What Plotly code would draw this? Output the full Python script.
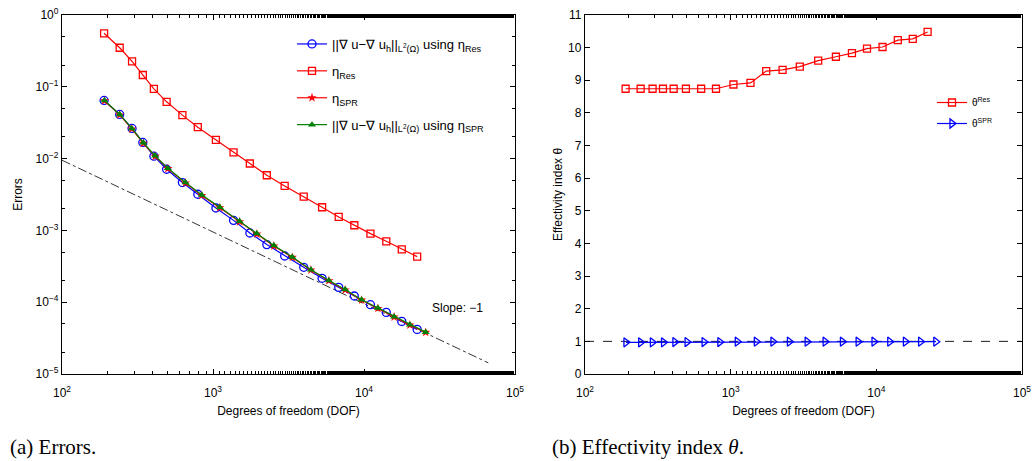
import plotly.graph_objects as go

# ---------------- data ----------------
dof_res = [190, 241, 291, 343, 406, 493, 627, 793, 1045, 1368, 1754, 2272, 2983,
           3989, 5278, 6800, 8628, 11030, 14045, 17785, 22490]
err_res = [0.0646, 0.0412, 0.0263, 0.0168, 0.0108, 0.00711, 0.00464, 0.00319,
           0.00205, 0.00138, 0.000920, 0.000634, 0.000440, 0.000306, 0.000215,
           0.000161, 0.000122, 0.0000923, 0.0000721, 0.0000540, 0.0000418]
eta_res = [0.556, 0.350, 0.226, 0.146, 0.0938, 0.0618, 0.0403, 0.0274, 0.0182,
           0.0122, 0.00854, 0.00586, 0.00416, 0.00296, 0.00210, 0.00154, 0.00118,
           0.000902, 0.000705, 0.000545, 0.000431]
dof_spr = [191, 241, 290, 346, 414, 502, 657, 843, 1110, 1500, 1950, 2530, 3350,
           4450, 5850, 7500, 9640, 12360, 15830, 20130, 25600]
err_spr = [0.0646, 0.0412, 0.0263, 0.01656, 0.01092, 0.00735, 0.00464, 0.00311,
           0.00210, 0.00134, 0.000902, 0.000614, 0.000427, 0.000284, 0.000201,
           0.000150, 0.000108, 0.0000828, 0.0000628, 0.0000485, 0.0000383]
eta_spr = [0.0638, 0.0406, 0.0259, 0.0163, 0.01077, 0.00725, 0.00458, 0.00307,
           0.00207, 0.00132, 0.000890, 0.000606, 0.000421, 0.000281, 0.000199,
           0.000148, 0.000107, 0.0000820, 0.0000622, 0.0000480, 0.0000380]
theta_res = [8.74, 8.74, 8.74, 8.74, 8.74, 8.74, 8.74, 8.74, 8.87, 8.92, 9.28,
             9.32, 9.42, 9.60, 9.72, 9.83, 9.97, 10.02, 10.23, 10.27, 10.48]
theta_spr = [0.97, 0.97, 0.97, 0.97, 0.98, 0.98, 0.98, 0.98, 0.99, 0.99, 0.99,
             0.99, 0.99, 0.99, 0.99, 0.99, 0.99, 0.99, 0.99, 0.99, 0.99]
slope_dof = [100, 66500]
slope_val = [0.0095, 1.43e-5]
ref_dof = [100, 100000]
ref_val = [1, 1]

x_ticks = [100, 1000, 10000, 100000]
x_ticktext = ["10<sup>2</sup>", "10<sup>3</sup>", "10<sup>4</sup>", "10<sup>5</sup>"]
y_ticks = [1, 0.1, 0.01, 0.001, 0.0001, 0.00001]
y_ticktext = ["10<sup>0</sup>", "10<sup>−1</sup>", "10<sup>−2</sup>",
              "10<sup>−3</sup>", "10<sup>−4</sup>", "10<sup>−5</sup>"]

FONT = "Liberation Sans, Arial, Helvetica, sans-serif"
SERIF = "Liberation Serif, Times New Roman, serif"
RED = "rgb(255,0,0)"
BLUE = "rgb(0,0,255)"
GREEN = "rgb(0,128,0)"

fig = go.Figure()

# ---------------- left panel ----------------
fig.add_trace(go.Scatter(
    x=slope_dof, y=slope_val, mode="lines", showlegend=False,
    line=dict(color="black", width=0.8, dash="dashdot"), xaxis="x", yaxis="y"))
fig.add_trace(go.Scatter(
    x=dof_res, y=err_res, mode="lines+markers",
    name="||∇ u−∇ u<sub>h</sub>||<sub>L<sup>2</sup>(Ω)</sub> using η<sub>Res</sub>",
    line=dict(color=BLUE, width=1.2),
    marker=dict(symbol="circle-open", size=8, color=BLUE, line=dict(width=1.3)),
    legend="legend", legendgroup="a", xaxis="x", yaxis="y"))
fig.add_trace(go.Scatter(
    x=dof_res, y=eta_res, mode="lines+markers", name="η<sub>Res</sub>",
    line=dict(color=RED, width=1.2),
    marker=dict(symbol="square-open", size=7, color=RED, line=dict(width=1.3)),
    legend="legend", legendgroup="b", xaxis="x", yaxis="y"))
fig.add_trace(go.Scatter(
    x=dof_spr, y=eta_spr, mode="lines+markers", name="η<sub>SPR</sub>",
    line=dict(color=RED, width=1.2),
    marker=dict(symbol="star", size=7, color=RED, line=dict(width=0)),
    legend="legend", legendgroup="c", xaxis="x", yaxis="y"))
fig.add_trace(go.Scatter(
    x=dof_spr, y=err_spr, mode="lines+markers",
    name="||∇ u−∇ u<sub>h</sub>||<sub>L<sup>2</sup>(Ω)</sub> using η<sub>SPR</sub>",
    line=dict(color=GREEN, width=1.2),
    marker=dict(symbol="triangle-up", size=7, color=GREEN, line=dict(width=0)),
    legend="legend", legendgroup="d", xaxis="x", yaxis="y"))

# ---------------- right panel ----------------
fig.add_trace(go.Scatter(
    x=ref_dof, y=ref_val, mode="lines", showlegend=False,
    line=dict(color="black", width=0.9, dash="dash"), xaxis="x2", yaxis="y2"))
fig.add_trace(go.Scatter(
    x=dof_res, y=theta_res, mode="lines+markers", name="θ<sup>Res</sup>",
    line=dict(color=RED, width=1.2),
    marker=dict(symbol="square-open", size=7, color=RED, line=dict(width=1.3)),
    legend="legend2", legendgroup="e", xaxis="x2", yaxis="y2"))
fig.add_trace(go.Scatter(
    x=dof_spr, y=theta_spr, mode="lines+markers", name="θ<sup>SPR</sup>",
    line=dict(color=BLUE, width=1.2),
    marker=dict(symbol="triangle-right-open", size=8, color=BLUE, line=dict(width=1.3)),
    legend="legend2", legendgroup="f", xaxis="x2", yaxis="y2"))

H = 461.0
W = 1033.0
def px_x(p):
    return p / W
def px_y(p):
    return 1 - p / H

axis_common = dict(
    showline=True, linecolor="black", linewidth=1.3, mirror="allticks",
    ticks="inside", ticklen=5, tickwidth=1, tickcolor="black",
    showgrid=False, zeroline=False, automargin=False,
    tickfont=dict(family=FONT, size=12, color="black"),
)
minor_log = dict(ticks="inside", ticklen=3, tickwidth=0.8, tickcolor="black",
                 showgrid=False)
title_font = dict(family=FONT, size=12, color="black")

fig.update_layout(
    width=1033, height=461,
    margin=dict(l=0, r=0, t=0, b=0, autoexpand=False),
    paper_bgcolor="white", plot_bgcolor="white",
    font=dict(family=FONT, size=12, color="black"),
    xaxis=dict(axis_common, type="log", range=[2, 5],
               domain=[px_x(62), px_x(515)], anchor="y",
               tickvals=x_ticks, ticktext=x_ticktext, minor=minor_log,
               ticklabelstandoff=7,
               title=dict(text="Degrees of freedom (DOF)", standoff=8,
                          font=title_font)),
    yaxis=dict(axis_common, type="log", range=[-5, 0],
               domain=[px_y(374), px_y(15)], anchor="x",
               tickvals=y_ticks, ticktext=y_ticktext, minor=minor_log,
               title=dict(text="Errors", standoff=10, font=title_font)),
    xaxis2=dict(axis_common, type="log", range=[2, 5],
                domain=[px_x(585), px_x(1022)], anchor="y2",
                tickvals=x_ticks, ticktext=x_ticktext, minor=minor_log,
                ticklabelstandoff=7,
                title=dict(text="Degrees of freedom (DOF)", standoff=8,
                           font=title_font)),
    yaxis2=dict(axis_common, range=[0, 11], dtick=1,
                domain=[px_y(374), px_y(15)], anchor="x2",
                title=dict(text="Effectivity index θ", standoff=2,
                           font=title_font)),
    legend=dict(x=px_x(292), y=px_y(29), xanchor="left", yanchor="top",
                bgcolor="rgba(0,0,0,0)", borderwidth=0,
                font=dict(family=FONT, size=13, color="black"),
                tracegroupgap=7, itemwidth=30),
    legend2=dict(x=px_x(932), y=px_y(88), xanchor="left", yanchor="top",
                 bgcolor="rgba(0,0,0,0)", borderwidth=0,
                 font=dict(family=FONT, size=10, color="black"),
                 tracegroupgap=2, itemwidth=30),
    annotations=[
        dict(text="Slope: −1", x=4.437, y=-4.087, xref="x", yref="y",
             xanchor="left", yanchor="middle", showarrow=False,
             font=dict(family=FONT, size=12, color="black")),
        dict(text="(a) Errors.", x=px_x(8), y=px_y(447), xref="paper", yref="paper",
             xanchor="left", yanchor="middle", showarrow=False,
             font=dict(family=SERIF, size=21, color="black")),
        dict(text="(b) Effectivity index <i>θ</i>.", x=px_x(550), y=px_y(447),
             xref="paper", yref="paper", xanchor="left", yanchor="middle",
             showarrow=False, font=dict(family=SERIF, size=21, color="black")),
    ],
)

fig.write_html("out.html")
